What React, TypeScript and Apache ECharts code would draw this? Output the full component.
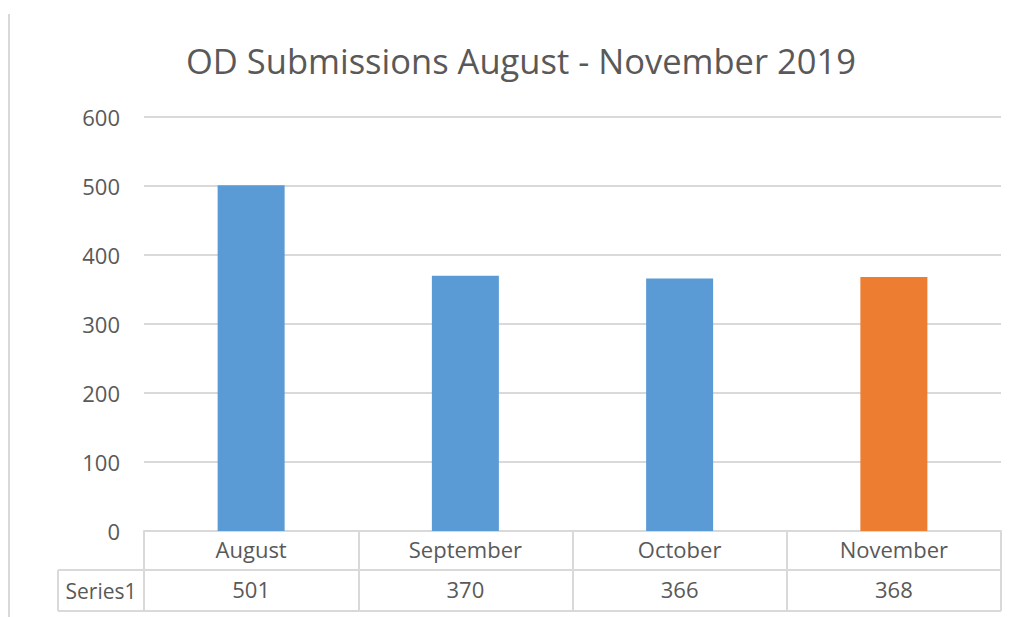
import React, { useEffect, useRef } from "react";
import * as echarts from "echarts";

const categories = ["August", "September", "October", "November"];
const values = [501, 370, 366, 368];
const barColors = ["#5B9BD5", "#5B9BD5", "#5B9BD5", "#ED7D31"];
const seriesName = "Series1";
const titleText = "OD Submissions August - November 2019";

const W = 1018;
const H = 617;
const GRID_LEFT = 144;
const GRID_RIGHT = 17;
const GRID_TOP = 117;
const GRID_BOTTOM = 86;
const FONT = "'Open Sans', 'Noto Sans', sans-serif";
const TEXT = "#595959";
const LINE = "#d9d9d9";
const LABEL_SIZE = 22;

export default function App() {
  const ref = useRef<HTMLDivElement>(null);
  useEffect(() => {
    if (!ref.current) return;
    const chart = echarts.init(ref.current, null, { renderer: "svg" });
    const axisY = H - GRID_BOTTOM;
    const rowMid = axisY + 39;
    const rowBot = axisY + 80;
    const tableLeft = 58;
    const tableRight = W - GRID_RIGHT;
    chart.setOption({
      animation: false,
      backgroundColor: "#ffffff",
      title: {
        text: titleText,
        left: 181,
        top: 38,
        textStyle: { fontFamily: FONT, fontSize: 34.5, fontWeight: "normal", color: TEXT },
      },
      grid: { left: GRID_LEFT, right: GRID_RIGHT, top: GRID_TOP, bottom: GRID_BOTTOM, containLabel: false },
      xAxis: [
        {
          type: "category",
          data: categories,
          axisLine: { show: true, lineStyle: { color: LINE, width: 2 } },
          axisTick: { show: true, alignWithLabel: false, length: 80, lineStyle: { color: LINE, width: 2 } },
          axisLabel: { margin: 7, fontFamily: FONT, fontSize: LABEL_SIZE, color: TEXT },
        },
        {
          type: "category",
          data: categories,
          position: "bottom",
          offset: 39,
          axisLine: { show: false },
          axisTick: { show: false },
          axisLabel: {
            margin: 8,
            fontFamily: FONT,
            fontSize: LABEL_SIZE,
            color: TEXT,
            formatter: (_v: string, i: number) => String(values[i]),
          },
        },
      ],
      yAxis: {
        type: "value",
        min: 0,
        max: 600,
        interval: 100,
        axisLine: { show: false },
        axisTick: { show: false },
        axisLabel: { margin: 24, fontFamily: FONT, fontSize: LABEL_SIZE, color: TEXT },
        splitLine: { lineStyle: { color: LINE, width: 2 } },
      },
      series: [
        {
          name: seriesName,
          type: "bar",
          barWidth: 67,
          data: values.map((v, i) => ({ value: v, itemStyle: { color: barColors[i] } })),
        },
      ],
      graphic: [
        { type: "line", shape: { x1: 9, y1: 14, x2: 9, y2: H }, style: { stroke: LINE, lineWidth: 2 } },
        { type: "line", shape: { x1: tableLeft, y1: rowMid, x2: tableRight, y2: rowMid }, style: { stroke: LINE, lineWidth: 2 } },
        { type: "line", shape: { x1: tableLeft, y1: rowBot, x2: tableRight, y2: rowBot }, style: { stroke: LINE, lineWidth: 2 } },
        { type: "line", shape: { x1: tableLeft, y1: rowMid, x2: tableLeft, y2: rowBot }, style: { stroke: LINE, lineWidth: 2 } },
        {
          type: "text",
          x: (tableLeft + GRID_LEFT) / 2,
          y: (rowMid + rowBot) / 2,
          style: { text: seriesName, fontFamily: FONT, fontSize: LABEL_SIZE - 1, fill: TEXT, align: "center", verticalAlign: "middle" },
        },
      ],
    });
    return () => chart.dispose();
  }, []);
  return <div ref={ref} style={{ width: W, height: H, position: "absolute", left: 0, top: 0 }} />;
}
